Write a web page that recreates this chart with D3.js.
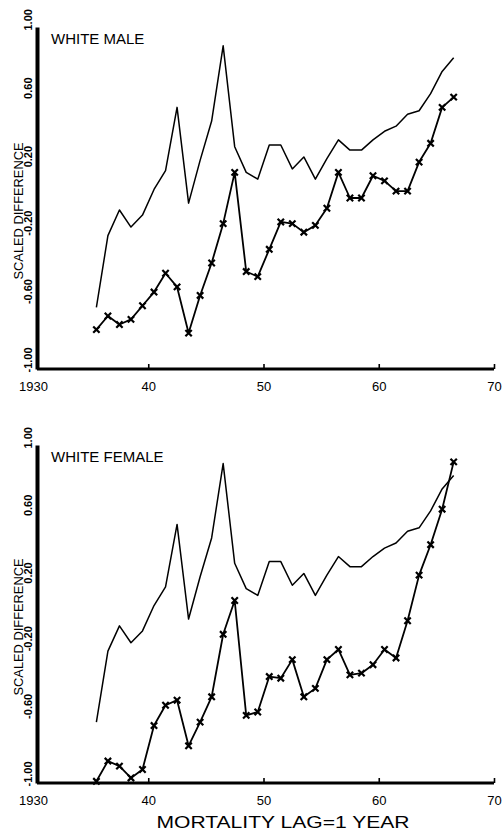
<!DOCTYPE html>
<html>
<head>
<meta charset="utf-8">
<script src="https://cdn.jsdelivr.net/npm/d3@7"></script>
<style>
  body { margin: 0; background: #fff; }
  svg { display: block; }
  text { font-family: "Liberation Sans", Arial, sans-serif; fill: #000; }
</style>
</head>
<body>
<svg id="chart"></svg>
<script>
// one value per year, plotted at mid-year
const years = [1935, 1936, 1937, 1938, 1939, 1940, 1941, 1942, 1943, 1944, 1945,
    1946, 1947, 1948, 1949, 1950, 1951, 1952, 1953, 1954, 1955, 1956, 1957, 1958,
    1959, 1960, 1961, 1962, 1963, 1964, 1965, 1966];

// plain line, the same in both panels
const solidSeries = [-0.64, -0.22, -0.07, -0.17, -0.10, 0.05, 0.16, 0.53, -0.03, 0.22,
    0.45, 0.89, 0.30, 0.15, 0.11, 0.31, 0.31, 0.17, 0.24, 0.11, 0.23, 0.34, 0.28, 0.28,
    0.34, 0.39, 0.42, 0.49, 0.51, 0.61, 0.74, 0.82];

// line with x markers
const whiteMale = [-0.77, -0.69, -0.74, -0.71, -0.63, -0.55, -0.44, -0.52, -0.79, -0.57,
    -0.38, -0.15, 0.15, -0.43, -0.46, -0.30, -0.14, -0.15, -0.20, -0.16, -0.06, 0.15,
    0.00, 0.00, 0.13, 0.10, 0.04, 0.04, 0.21, 0.32, 0.53, 0.59];

const whiteFemale = [-0.99, -0.87, -0.90, -0.97, -0.92, -0.66, -0.54, -0.51, -0.78, -0.64,
    -0.49, -0.12, 0.08, -0.60, -0.58, -0.37, -0.38, -0.27, -0.49, -0.44, -0.27, -0.21,
    -0.36, -0.35, -0.30, -0.21, -0.26, -0.04, 0.23, 0.41, 0.62, 0.90];

const xTicks = [1930, 1940, 1950, 1960, 1970];
const xTickLabels = ["1930", "40", "50", "60", "70"];
const yTicks = [1, 0.6, 0.2, -0.2, -0.6, -1];
const yTickLabels = ["1.00", "0.60", "0.20", "-0.20", "-0.60", "-1.00"];

const width = 504, height = 832;
const axisLeftX = 37;

const svg = d3.select("#chart")
    .attr("width", width)
    .attr("height", height);

svg.append("rect")
    .attr("width", width)
    .attr("height", height)
    .attr("fill", "#fff");

const x = d3.scaleLinear()
    .domain([1930, 1970])
    .range([33, 494]);

const panels = [
    { label: "WHITE MALE", series: whiteMale, top: 27, bottom: 369 },
    { label: "WHITE FEMALE", series: whiteFemale, top: 445, bottom: 783 }
];

const markShape = d3.symbolX || d3.symbolCross;

panels.forEach(p => {
    const y = d3.scaleLinear()
        .domain([-1, 1])
        .range([p.bottom, p.top]);

    const g = svg.append("g");

    // x axis, ticks pointing up into the plot
    const xAxis = d3.axisBottom(x)
        .tickValues(xTicks)
        .tickSizeInner(-5)
        .tickSizeOuter(0)
        .tickPadding(13)
        .tickFormat((d, i) => xTickLabels[i]);

    const gx = g.append("g")
        .attr("transform", `translate(0,${p.bottom})`)
        .call(xAxis);
    gx.select(".domain")
        .attr("d", `M${axisLeftX},0H${x(1970)}`)
        .attr("stroke-width", 3);
    gx.selectAll(".tick line").attr("stroke-width", 1.6);
    gx.selectAll(".tick").filter(d => d === 1930).select("line").remove();
    gx.selectAll(".tick text")
        .attr("font-size", 13)
        .attr("font-family", "Liberation Sans, Arial, sans-serif");

    // y axis with rotated labels
    const yAxis = d3.axisLeft(y)
        .tickValues(yTicks)
        .tickSize(0)
        .tickFormat((d, i) => yTickLabels[i]);

    const gy = g.append("g")
        .attr("transform", `translate(${axisLeftX},0)`)
        .call(yAxis);
    gy.select(".domain").attr("stroke-width", 4);
    gy.selectAll(".tick text")
        .attr("transform", "rotate(-90)")
        .attr("x", -3)
        .attr("y", -5)
        .attr("dy", 0)
        .attr("text-anchor", "start")
        .attr("font-size", 11)
        .attr("font-weight", "bold")
        .attr("font-family", "Liberation Sans, Arial, sans-serif");

    g.append("text")
        .attr("transform", `translate(23,${(p.top + p.bottom) / 2 + 13}) rotate(-90)`)
        .attr("text-anchor", "middle")
        .attr("font-size", 13)
        .attr("textLength", 137)
        .attr("lengthAdjust", "spacingAndGlyphs")
        .text("SCALED DIFFERENCE");

    g.append("text")
        .attr("x", 51)
        .attr("y", p.top + 17)
        .attr("font-size", 15)
        .text(p.label);

    const line = d3.line()
        .x((d, i) => x(years[i] + 0.5))
        .y(d => y(d));

    g.append("path")
        .datum(solidSeries)
        .attr("d", line)
        .attr("fill", "none")
        .attr("stroke", "#000")
        .attr("stroke-width", 1.5)
        .attr("stroke-linejoin", "round");

    g.append("path")
        .datum(p.series)
        .attr("d", line)
        .attr("fill", "none")
        .attr("stroke", "#000")
        .attr("stroke-width", 1.8)
        .attr("stroke-linejoin", "round");

    g.selectAll(".mark")
        .data(p.series)
        .join("path")
        .attr("class", "mark")
        .attr("transform", (d, i) => `translate(${x(years[i] + 0.5)},${y(d)})` +
            (markShape === d3.symbolCross ? " rotate(45)" : ""))
        .attr("d", d3.symbol().type(markShape).size(28))
        .attr("fill", markShape === d3.symbolCross ? "#000" : "none")
        .attr("stroke", "#000")
        .attr("stroke-width", 2.2);
});

svg.append("text")
    .attr("x", 283)
    .attr("y", 828)
    .attr("text-anchor", "middle")
    .attr("font-size", 16)
    .attr("textLength", 253)
    .attr("lengthAdjust", "spacingAndGlyphs")
    .text("MORTALITY LAG=1 YEAR");
</script>
</body>
</html>
